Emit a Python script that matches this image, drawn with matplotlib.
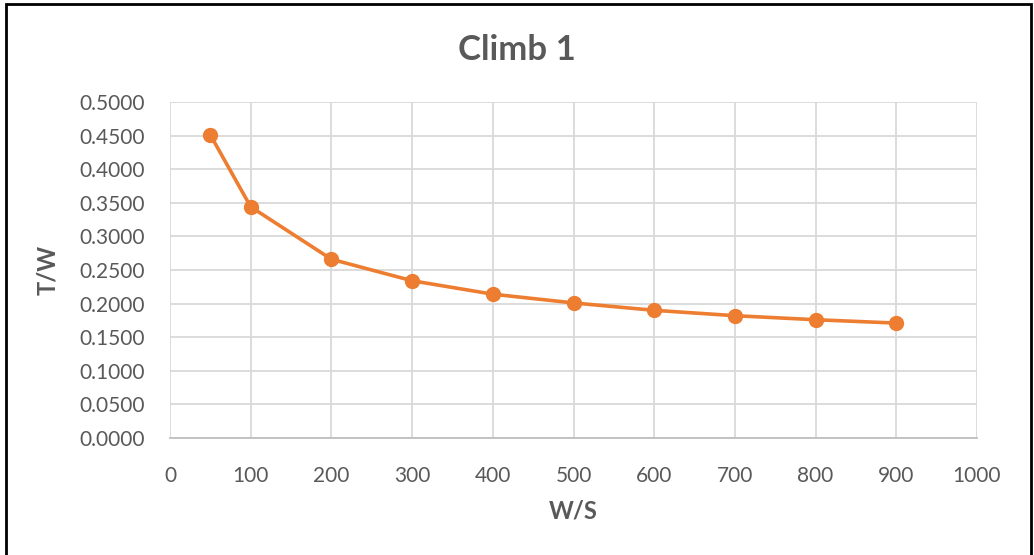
import matplotlib.pyplot as plt
from matplotlib.patches import Rectangle
from matplotlib.ticker import FormatStrFormatter, MultipleLocator

plt.rcParams["font.family"] = ["Lato", "DejaVu Sans"]

wing_loading = [50, 100, 200, 300, 400, 500, 600, 700, 800, 900]
thrust_weight = [0.451, 0.344, 0.266, 0.234, 0.214, 0.201, 0.190, 0.182, 0.176, 0.171]

title = "Climb 1"
x_label = "W/S"
y_label = "T/W"

text_grey = "#595959"
grid_grey = "#D9D9D9"
orange = "#ED7D31"

fig = plt.figure(figsize=(10.34, 5.55), dpi=100)
ax = fig.add_axes([170 / 1034, 117 / 555, 807 / 1034, 336 / 555])

ax.plot(wing_loading, thrust_weight, color=orange, linewidth=2.6,
        marker="o", markersize=10, markeredgecolor=orange, zorder=3)

ax.set_xlim(0, 1000)
ax.set_ylim(0, 0.5)
ax.xaxis.set_major_locator(MultipleLocator(100))
ax.yaxis.set_major_locator(MultipleLocator(0.05))
ax.yaxis.set_major_formatter(FormatStrFormatter("%.4f"))

ax.grid(True, color=grid_grey, linewidth=1.3)
ax.set_axisbelow(True)
for side in ("top", "right", "left"):
    ax.spines[side].set_visible(False)
ax.spines["bottom"].set_color("#BFBFBF")
ax.spines["bottom"].set_linewidth(1.3)

ax.tick_params(axis="both", length=0, labelsize=15, labelcolor=text_grey)
ax.tick_params(axis="y", pad=18)
ax.tick_params(axis="x", pad=20)

ax.set_xlabel(x_label, fontsize=17, fontweight="bold", color=text_grey, labelpad=10)
ax.set_ylabel(y_label, fontsize=17, fontweight="bold", color=text_grey, labelpad=15)
fig.text(0.5, 1 - 50 / 555, title, ha="center", va="center",
         fontsize=25, fontweight="bold", color=text_grey)

# chart frame
fig.patches.append(Rectangle((6 / 1034, -0.05), 1025 / 1034, 1.05 - 4 / 555,
                             transform=fig.transFigure, fill=False,
                             edgecolor="black", linewidth=2))

fig.savefig("out.png", dpi=100)
